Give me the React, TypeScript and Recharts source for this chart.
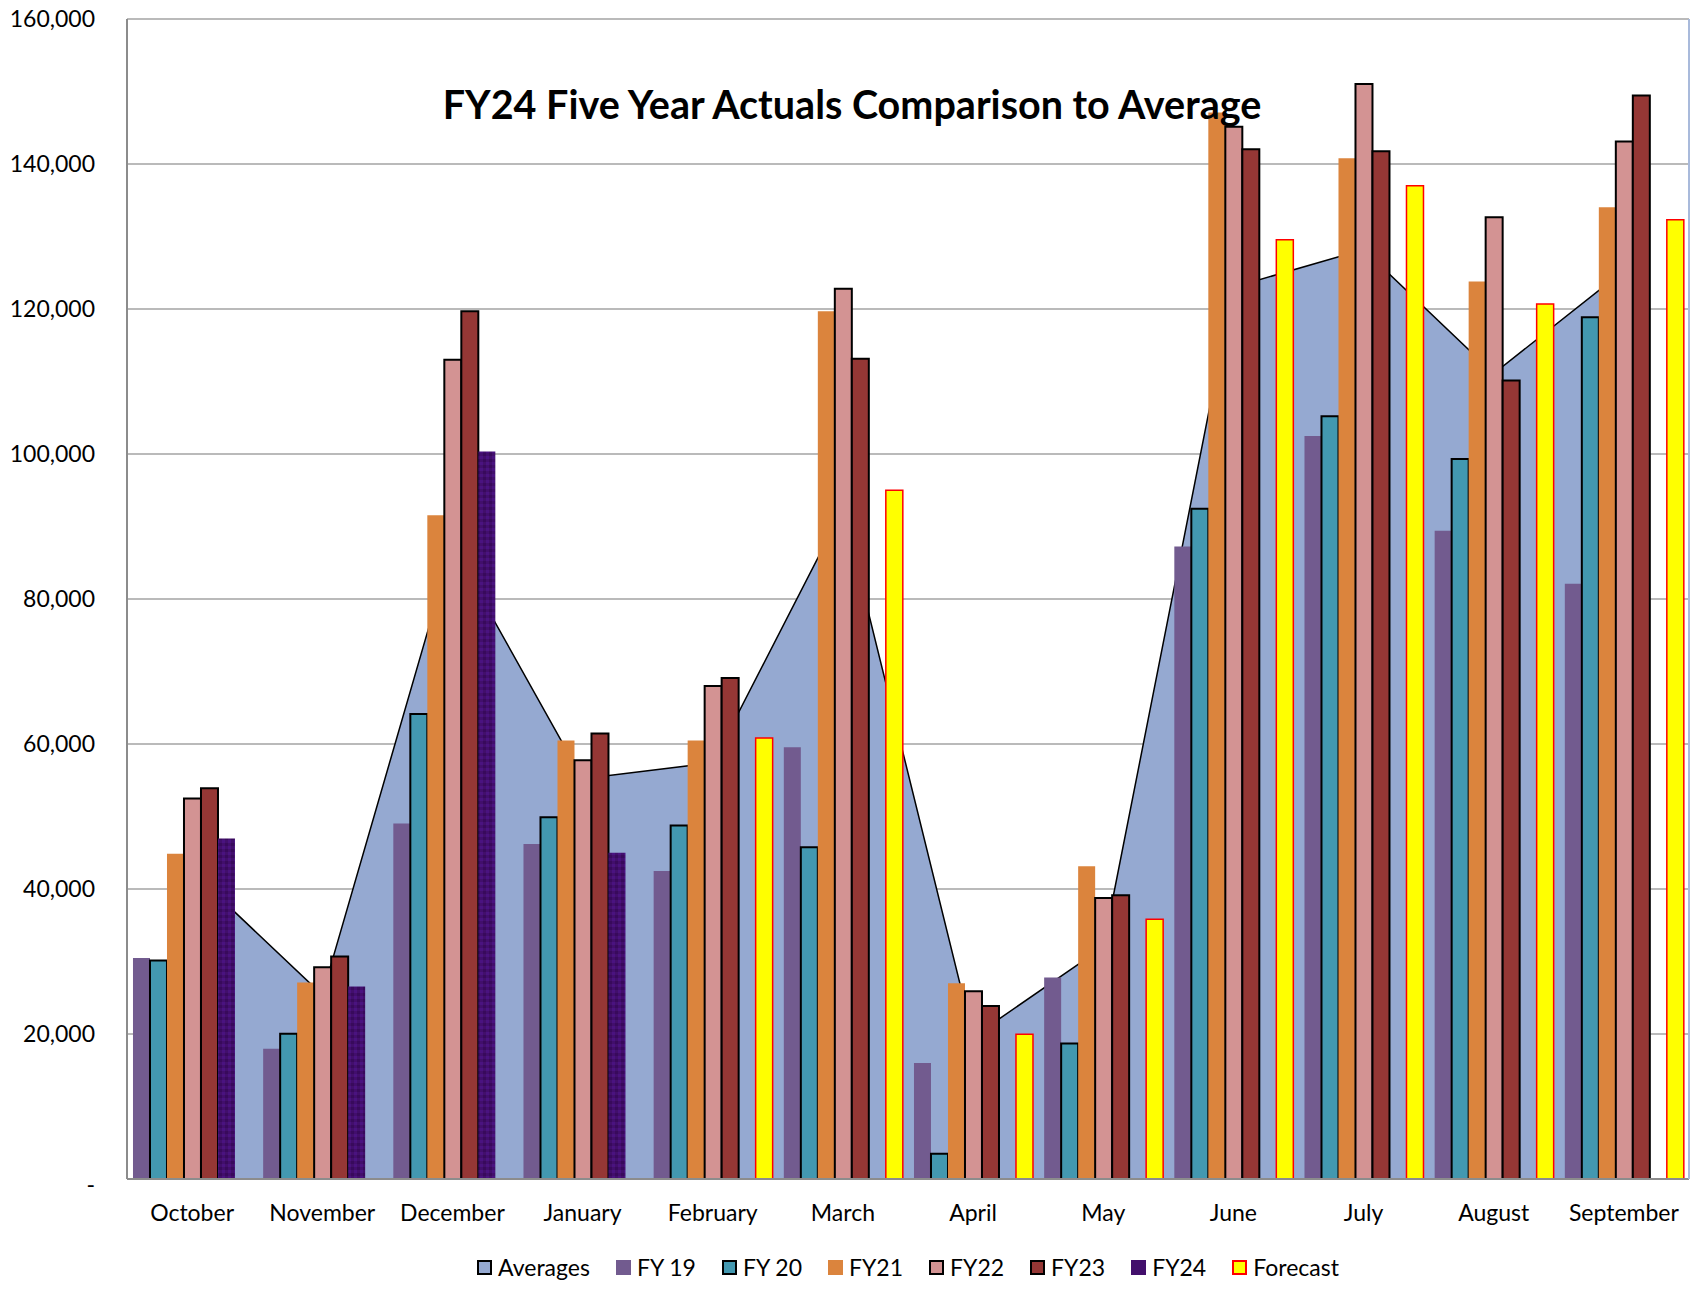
import { ComposedChart, Bar, Area, XAxis, YAxis, CartesianGrid, Legend } from "recharts";

const FONT = "Lato, 'Liberation Sans', sans-serif";

const months = [
  "October", "November", "December", "January", "February", "March",
  "April", "May", "June", "July", "August", "September",
];

const averages = [42400, 25400, 87300, 55200, 57400, 92400, 19600, 32000, 123000, 128200, 111100, 125300];
const fy19 = [30500, 17950, 49050, 46200, 42500, 59550, 16000, 27800, 87250, 102500, 89400, 82100];
const fy20 = [30150, 20050, 64150, 49900, 48750, 45750, 3500, 18700, 92450, 105200, 99300, 118850];
const fy21 = [44850, 27100, 91550, 60480, 60480, 119700, 27000, 43150, 147100, 140800, 123800, 134050];
const fy22 = [52500, 29200, 113000, 57750, 68000, 122800, 25900, 38750, 145150, 151050, 132650, 143100];
const fy23 = [53900, 30700, 119700, 61450, 69120, 113150, 23850, 39150, 142020, 141750, 110150, 149450];
const fy24 = [46950, 26550, 100340, 45000, null, null, null, null, null, null, null, null];
const forecast = [null, null, null, null, 60830, 95000, 19950, 35830, 129550, 137000, 120700, 132300];

const yTicks = [0, 20000, 40000, 60000, 80000, 100000, 120000, 140000, 160000];

const data = months.map((month, i) => ({
  month,
  averages: averages[i],
  fy19: fy19[i],
  fy20: fy20[i],
  fy21: fy21[i],
  fy22: fy22[i],
  fy23: fy23[i],
  fy24: fy24[i],
  forecast: forecast[i],
}));

const legendItems = [
  { name: "Averages", fill: "#95A9D1", border: "#000" },
  { name: "FY 19", fill: "#725B8F", border: null },
  { name: "FY 20", fill: "#4398B0", border: "#000" },
  { name: "FY21", fill: "#DB843D", border: null },
  { name: "FY22", fill: "#D39393", border: "#000" },
  { name: "FY23", fill: "#953735", border: "#000" },
  { name: "FY24", fill: "#420F6C", border: null },
  { name: "Forecast", fill: "#FFFF00", border: "#FF0000" },
];

function YTick(props: any) {
  const { x, y, payload } = props;
  const zero = payload.value === 0;
  return (
    <text x={x} y={y} dy={zero ? 14 : 8} textAnchor="end" fontFamily={FONT} fontSize={23} fill="#000">
      {zero ? "-" : payload.value.toLocaleString("en-US")}
    </text>
  );
}

function XTick(props: any) {
  const { x, y, payload } = props;
  return (
    <text x={x} y={y} dy={42} textAnchor="middle" fontFamily={FONT} fontSize={23} fill="#000">
      {payload.value}
    </text>
  );
}

function LegendContent() {
  return (
    <div
      style={{
        display: "flex",
        justifyContent: "center",
        alignItems: "center",
        height: 24,
        fontFamily: FONT,
        fontSize: 23,
        color: "#000",
      }}
    >
      {legendItems.map((it, i) => (
        <span
          key={it.name}
          style={{ display: "flex", alignItems: "center", marginRight: i === legendItems.length - 1 ? 0 : 26 }}
        >
          <span
            style={{
              display: "inline-block",
              width: 15,
              height: 15,
              boxSizing: "border-box",
              background: it.fill,
              border: it.border ? `2px solid ${it.border}` : "none",
              marginRight: 6,
            }}
          />
          {it.name}
        </span>
      ))}
    </div>
  );
}

export default function App() {
  return (
    <div style={{ position: "absolute", left: 0, top: 0, width: 1691, height: 1291, background: "#fff" }}>
      <ComposedChart
        width={1691}
        height={1291}
        data={data}
        margin={{ top: 19, right: 0, left: 0, bottom: 12 }}
        barCategoryGap="4.6%"
        barGap={0}
        style={{ fontFamily: FONT }}
      >
        <defs>
          <pattern id="fy24tex" width="6" height="6" patternUnits="userSpaceOnUse">
            <rect width="6" height="6" fill="#420F6C" />
            <rect x="0" y="0" width="3" height="3" fill="#4A1380" />
            <rect x="3" y="3" width="3" height="3" fill="#380A5C" />
          </pattern>
        </defs>
        <CartesianGrid vertical={false} stroke="#A3A3A3" strokeWidth={1.5} />
        <XAxis
          dataKey="month"
          height={76}
          tick={<XTick />}
          tickLine={false}
          tickSize={0}
          tickMargin={0}
          interval={0}
          axisLine={{ stroke: "#8C8C8C", strokeWidth: 2 }}
        />
        <XAxis
          xAxisId="top"
          orientation="top"
          dataKey="month"
          height={0}
          tick={false}
          tickLine={false}
          axisLine={{ stroke: "#A9BADB", strokeWidth: 2 }}
        />
        <YAxis
          width={127}
          domain={[0, 160000]}
          ticks={yTicks}
          interval={0}
          tick={<YTick />}
          tickLine={false}
          tickSize={0}
          tickMargin={32}
          axisLine={{ stroke: "#8C8C8C", strokeWidth: 2 }}
        />
        <YAxis
          yAxisId="right"
          orientation="right"
          width={2}
          domain={[0, 160000]}
          tick={false}
          tickLine={false}
          axisLine={{ stroke: "#A9BADB", strokeWidth: 2 }}
        />
        <Area
          type="linear"
          dataKey="averages"
          name="Averages"
          fill="#95A9D1"
          fillOpacity={1}
          stroke="#000"
          strokeWidth={1.5}
          dot={false}
          activeDot={false}
          isAnimationActive={false}
        />
        <Bar dataKey="fy19" name="FY 19" fill="#725B8F" isAnimationActive={false} />
        <Bar dataKey="fy20" name="FY 20" fill="#4398B0" stroke="#000" strokeWidth={2} isAnimationActive={false} />
        <Bar dataKey="fy21" name="FY21" fill="#DB843D" isAnimationActive={false} />
        <Bar dataKey="fy22" name="FY22" fill="#D39393" stroke="#000" strokeWidth={2} isAnimationActive={false} />
        <Bar dataKey="fy23" name="FY23" fill="#953735" stroke="#000" strokeWidth={2} isAnimationActive={false} />
        <Bar dataKey="fy24" name="FY24" fill="url(#fy24tex)" isAnimationActive={false} />
        <Bar dataKey="forecast" name="Forecast" fill="#FFFF00" stroke="#FF0000" strokeWidth={1.5} isAnimationActive={false} />
        <Legend
          verticalAlign="bottom"
          content={<LegendContent />}
          wrapperStyle={{ left: 127, width: 1562, height: 24 }}
        />
      </ComposedChart>
      <div
        style={{
          position: "absolute",
          left: 0,
          width: 1704,
          top: 79,
          textAlign: "center",
          fontFamily: FONT,
          fontWeight: 700,
          fontSize: 39.5,
          lineHeight: "50px",
          color: "#000",
          pointerEvents: "none",
        }}
      >
        FY24 Five Year Actuals Comparison to Average
      </div>
    </div>
  );
}
